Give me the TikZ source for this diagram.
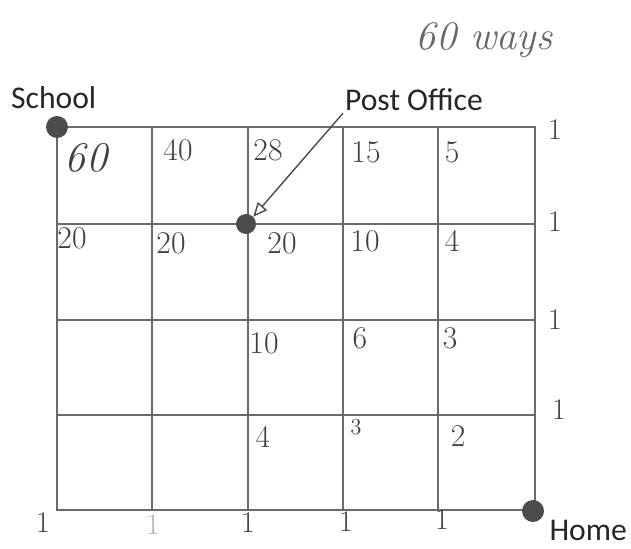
\documentclass[tikz,border=0pt]{standalone}
\usepackage{fontspec}
\setsansfont{Carlito}
\usetikzlibrary{positioning,arrows.meta}
\definecolor{pen}{HTML}{404040}
\definecolor{gridgray}{HTML}{6A6A6A}
\begin{document}
\begin{tikzpicture}[
        x=0.02cm, y=-0.02cm,
        gridline/.style={draw=gridgray, line width=1.2pt},
        dot/.style={circle, fill=black!70, inner sep=0pt, minimum size=0.44cm},
        place/.style={font=\sffamily\fontsize{18}{18}\selectfont, text=black!85, inner sep=1pt},
        count/.style={font=\fontsize{18}{18}\selectfont, text=pen, inner sep=0pt},
        edge1/.style={font=\fontsize{17}{17}\selectfont, text=pen, inner sep=0pt},
        arrow/.style={-{Triangle[open, length=8pt, width=7pt]}, thick, draw=black!70}
    ]
        \useasboundingbox (0,0) rectangle (631,548);

        % Grid of streets
        \draw[gridline] (57,127) rectangle (535,510);
        \draw[gridline] (152,127) -- (152,510);
        \draw[gridline] (248,127) -- (248,510);
        \draw[gridline] (343,127) -- (343,510);
        \draw[gridline] (438,127) -- (438,510);
        \draw[gridline] (57,224) -- (535,224);
        \draw[gridline] (57,320) -- (535,320);
        \draw[gridline] (57,415) -- (535,415);

        % Places
        \node[dot] (school) at (57,127) {};
        \node[dot, minimum size=0.4cm] (post) at (246,224) {};
        \node[dot] (home) at (533,511) {};
        \node[place, anchor=west] (schoollabel) at (9,98) {School};
        \node[place, anchor=west] (postlabel) at (343,100) {Post Office};
        \node[place, anchor=east] (homelabel) at (629,530) {Home};
        \draw[arrow] (postlabel.south west) -- (post.north east);

        % Title
        \node[font=\fontsize{23}{23}\selectfont\itshape, text=black!60] (title) at (484,40) {60 ways};

        % Path counts
        \node[count, font=\fontsize{24}{24}\selectfont\itshape] (c11) at (86,158) {60};
        \node[count] (c12) at (178,150) {40};
        \node[count] (c13) at (268,150) {28};
        \node[count] (c14) at (366,152) {15};
        \node[count] (c15) at (452,152) {5};
        \node[count] (c21) at (72,238) {20};
        \node[count] (c22) at (171,243) {20};
        \node[count] (c23) at (282,243) {20};
        \node[count] (c24) at (365,241) {10};
        \node[count] (c25) at (452,241) {4};
        \node[count] (c33) at (264,343) {10};
        \node[count] (c34) at (360,338) {6};
        \node[count] (c35) at (450,338) {3};
        \node[count] (c43) at (263,437) {4};
        \node[count, font=\fontsize{13}{13}\selectfont] (c44) at (356,427) {3};
        \node[count] (c45) at (458,436) {2};

        % Ones along the edges
        \node[edge1] (r1) at (555,130) {1};
        \node[edge1] (r2) at (555,222) {1};
        \node[edge1] (r3) at (555,320) {1};
        \node[edge1] (r4) at (559,410) {1};
        \node[edge1] (b1) at (43,523) {1};
        \node[edge1, text=black!30] (b2) at (153,525) {1};
        \node[edge1] (b3) at (248,523) {1};
        \node[edge1] (b4) at (346,522) {1};
        \node[edge1] (b5) at (442,520) {1};
\end{tikzpicture}
\end{document}
